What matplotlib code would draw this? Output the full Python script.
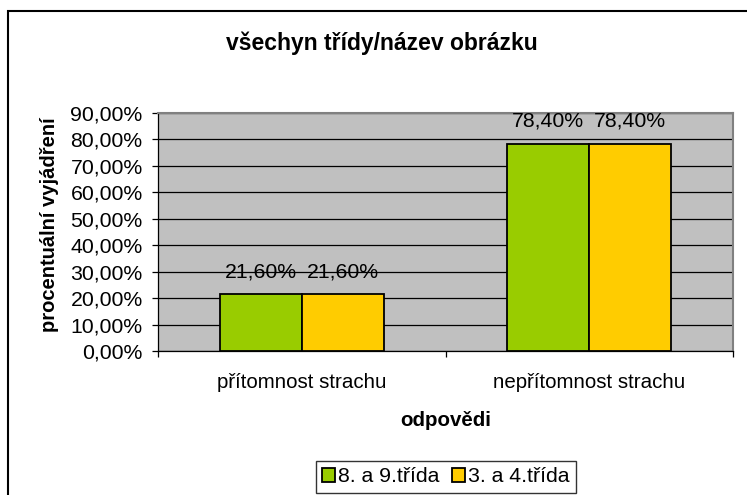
import matplotlib
matplotlib.use('Agg')
import matplotlib.pyplot as plt
from matplotlib.patches import Rectangle, Patch

plt.rcParams['font.family'] = ['Liberation Sans', 'DejaVu Sans']

# data
categories = ['přítomnost strachu', 'nepřítomnost strachu']
series_names = ['8. a 9.třída', '3. a 4.třída']
vals_89 = [0.216, 0.784]
vals_34 = [0.216, 0.784]
y_ticks = [0.0, 0.1, 0.2, 0.3, 0.4, 0.5, 0.6, 0.7, 0.8, 0.9]

green = '#99CC00'
yellow = '#FFCC00'
fs = 15.3

W, H = 747, 495
fig = plt.figure(figsize=(W / 100, H / 100), dpi=100)

# plot area in pixels
left, right, top, bottom = 158, 733, 113, 351
ax = fig.add_axes([left / W, 1 - bottom / H, (right - left) / W, (bottom - top) / H])
ax.set_facecolor('#C0C0C0')

bw = 0.285
xs = range(len(categories))
b1 = ax.bar([x - bw / 2 for x in xs], vals_89, bw, color=green, edgecolor='black', linewidth=1.3, zorder=3)
b2 = ax.bar([x + bw / 2 for x in xs], vals_34, bw, color=yellow, edgecolor='black', linewidth=1.3, zorder=3)

def pct(v):
    return f"{v * 100:.2f}%".replace('.', ',')

for bars, vals in [(b1, vals_89), (b2, vals_34)]:
    for b, v in zip(bars, vals):
        ax.annotate(pct(v), (b.get_x() + b.get_width() / 2, v), xytext=(0, 16),
                    textcoords='offset points', ha='center', va='center', fontsize=fs)

ax.set_xlim(-0.5, len(categories) - 0.5)
ax.set_ylim(0, 0.9)
ax.set_yticks(y_ticks)
ax.set_yticklabels([pct(v) for v in y_ticks], fontsize=fs)
ax.yaxis.grid(True, color='black', linewidth=0.9, zorder=1)
ax.set_axisbelow(True)

ax.set_xticks([-0.5, 0.5, 1.5])
ax.set_xticklabels([])
ax.set_xticks(list(xs), minor=True)
ax.set_xticklabels(categories, minor=True, fontsize=14.8)
ax.tick_params(axis='x', which='minor', length=0, pad=16)
ax.tick_params(axis='both', which='major', length=4, width=0.9, color='black', pad=7)

for s in ['top', 'right']:
    ax.spines[s].set_color('#808080')
    ax.spines[s].set_linewidth(1.5)
for s in ['left', 'bottom']:
    ax.spines[s].set_color('black')
    ax.spines[s].set_linewidth(0.9)

fig.text(382 / W, 1 - 43 / H, 'všechyn třídy/název obrázku', ha='center', va='center',
         fontsize=16.5, fontweight='bold')
fig.text(446 / W, 1 - 420 / H, 'odpovědi', ha='center', va='center', fontsize=14.8, fontweight='bold')
fig.text(50 / W, 1 - 225 / H, 'procentuální vyjádření', ha='center', va='center', rotation=90,
         fontsize=14.5, fontweight='bold')

handles = [Patch(facecolor=green, edgecolor='black', linewidth=1.3),
           Patch(facecolor=yellow, edgecolor='black', linewidth=1.3)]
leg = fig.legend(handles, series_names, loc='center', bbox_to_anchor=(446 / W, 1 - 477 / H),
                 ncol=2, fontsize=fs, frameon=True, fancybox=False, handlelength=0.6,
                 handleheight=0.6, handletextpad=0.15, columnspacing=0.6, borderpad=0.3,
                 borderaxespad=0)
leg.get_frame().set_edgecolor('black')
leg.get_frame().set_linewidth(1.0)

# chart border
fig.add_artist(Rectangle((8 / W, -0.1), 1.2, 1.1 - 11 / H, transform=fig.transFigure,
                         fill=False, edgecolor='black', linewidth=1.5))

fig.savefig('out.png', dpi=100)
